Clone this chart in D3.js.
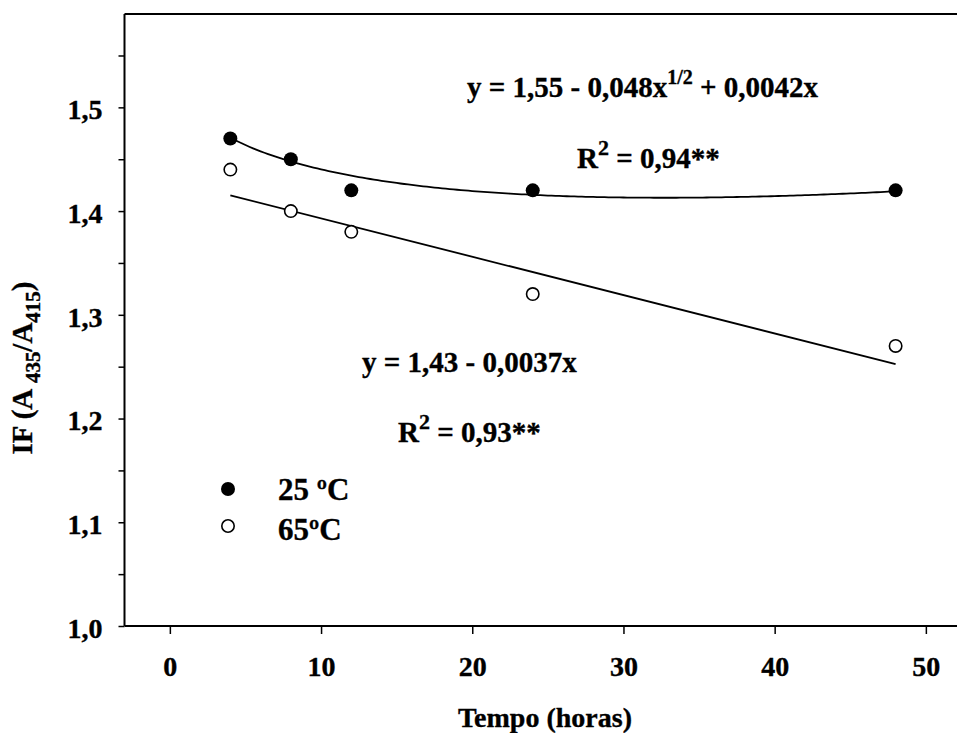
<!DOCTYPE html>
<html>
<head>
<meta charset="utf-8">
<script src="https://cdn.jsdelivr.net/npm/d3@7"></script>
<style>
  html, body { margin: 0; padding: 0; background: #fff; }
  text { font-family: "Liberation Serif", "Times New Roman", serif; font-weight: bold; fill: #000; stroke: #000; stroke-width: 0.35px; }
</style>
</head>
<body>
<svg id="chart" width="957" height="733"></svg>
<script>
// ---- data ----
const hours = [4, 8, 12, 24, 48];
const if25 = [1.47, 1.45, 1.42, 1.42, 1.42];
const if65 = [1.44, 1.40, 1.38, 1.32, 1.27];
// fitted equations shown on the chart: y = a + b*sqrt(x) + c*x ; y = a + b*x
const fit25 = [1.55, -0.048, 0.0042];
const fit65 = [1.43, -0.0037];
const xTicks = [0, 10, 20, 30, 40, 50];
const yTicks = [1.0, 1.1, 1.2, 1.3, 1.4, 1.5];
const yMinorTicks = [1.05, 1.15, 1.25, 1.35, 1.45, 1.55];
const legendLabels = ["25 ºC", "65ºC"];

const svg = d3.select("#chart");
const L = 124.5, T = 14, B = 626;

const x = d3.scaleLinear().domain([-3, 52]).range([L, L + 55 * 15.12]);
const y = d3.scaleLinear().domain([1.0, 1.59]).range([B, T]);

const fmt = d => d.toFixed(1).replace(".", ",");

// axes
const yAxis = svg.append("g").attr("transform", `translate(${L},0)`)
  .call(d3.axisLeft(y).tickValues(yTicks).tickSize(6).tickPadding(16).tickFormat(fmt));
const yMinor = svg.append("g").attr("transform", `translate(${L},0)`)
  .call(d3.axisLeft(y).tickValues(yMinorTicks).tickSize(6).tickFormat(""));
const xAxis = svg.append("g").attr("transform", `translate(0,${B})`)
  .call(d3.axisBottom(x).tickValues(xTicks).tickSize(8).tickPadding(22).tickFormat(d3.format("d")));

[yAxis, yMinor, xAxis].forEach(g => {
  g.select(".domain").remove();
  g.selectAll("line").attr("stroke", "#000").attr("stroke-width", 1.5);
  g.selectAll("text").style("font-size", "28px").style("font-family", "'Liberation Serif', serif")
    .style("font-weight", "bold").attr("stroke", "#000").attr("stroke-width", 0.35);
});
yAxis.selectAll("text").attr("dy", "0.4em");

// frame: left, top, bottom
svg.append("line").attr("x1", L).attr("x2", L).attr("y1", T).attr("y2", B).attr("stroke", "#000").attr("stroke-width", 2);
svg.append("line").attr("x1", L).attr("x2", 957).attr("y1", T).attr("y2", T).attr("stroke", "#000").attr("stroke-width", 2);
svg.append("line").attr("x1", L).attr("x2", 957).attr("y1", B).attr("y2", B).attr("stroke", "#000").attr("stroke-width", 2);

// fitted curves
const xs = d3.range(4, 48.001, 0.25);
const line = d3.line().x(d => x(d[0])).y(d => y(d[1]));
svg.append("path")
  .attr("d", line(xs.map(v => [v, fit25[0] + fit25[1] * Math.sqrt(v) + fit25[2] * v])))
  .attr("fill", "none").attr("stroke", "#000").attr("stroke-width", 1.8);
svg.append("path")
  .attr("d", line([4, 48].map(v => [v, fit65[0] + fit65[1] * v])))
  .attr("fill", "none").attr("stroke", "#000").attr("stroke-width", 1.8);

// points
svg.append("g").selectAll("circle").data(hours.map((h, i) => [h, if25[i]])).join("circle")
  .attr("cx", d => x(d[0])).attr("cy", d => y(d[1])).attr("r", 7).attr("fill", "#000");
svg.append("g").selectAll("circle").data(hours.map((h, i) => [h, if65[i]])).join("circle")
  .attr("cx", d => x(d[0])).attr("cy", d => y(d[1])).attr("r", 6.2)
  .attr("fill", "#fff").attr("stroke", "#000").attr("stroke-width", 1.6);

// legend
svg.append("circle").attr("cx", 228).attr("cy", 489).attr("r", 7).attr("fill", "#000");
svg.append("circle").attr("cx", 228).attr("cy", 526).attr("r", 6.2).attr("fill", "#fff").attr("stroke", "#000").attr("stroke-width", 1.6);
svg.append("text").attr("x", 278).attr("y", 500).style("font-size", "31px").text(legendLabels[0]);
svg.append("text").attr("x", 278).attr("y", 540).style("font-size", "31px").text(legendLabels[1]);

// equations
const eq1 = svg.append("text").attr("x", 467).attr("y", 97).style("font-size", "29px");
eq1.append("tspan").text("y = 1,55 - 0,048x");
eq1.append("tspan").attr("dy", -13).style("font-size", "20px").text("1/2");
eq1.append("tspan").attr("dy", 13).text(" + 0,0042x");

const r1 = svg.append("text").attr("x", 577).attr("y", 168).style("font-size", "29px");
r1.append("tspan").text("R");
r1.append("tspan").attr("dy", -13).style("font-size", "22px").text("2");
r1.append("tspan").attr("dy", 13).text(" = 0,94**");

svg.append("text").attr("x", 362).attr("y", 372).style("font-size", "29px").text("y = 1,43 - 0,0037x");
const r2 = svg.append("text").attr("x", 398).attr("y", 442).style("font-size", "29px");
r2.append("tspan").text("R");
r2.append("tspan").attr("dy", -13).style("font-size", "22px").text("2");
r2.append("tspan").attr("dy", 13).text(" = 0,93**");

// axis titles
svg.append("text").attr("x", 545).attr("y", 727).attr("text-anchor", "middle").style("font-size", "28px").text("Tempo (horas)");
const yt = svg.append("text").attr("transform", "translate(32,368) rotate(-90)").attr("text-anchor", "middle").style("font-size", "29px");
yt.append("tspan").text("IF (A ");
yt.append("tspan").attr("dy", 8).style("font-size", "21px").text("435");
yt.append("tspan").attr("dy", -8).text("/A");
yt.append("tspan").attr("dy", 8).style("font-size", "21px").text("415");
yt.append("tspan").attr("dy", -8).text(")");
</script>
</body>
</html>
